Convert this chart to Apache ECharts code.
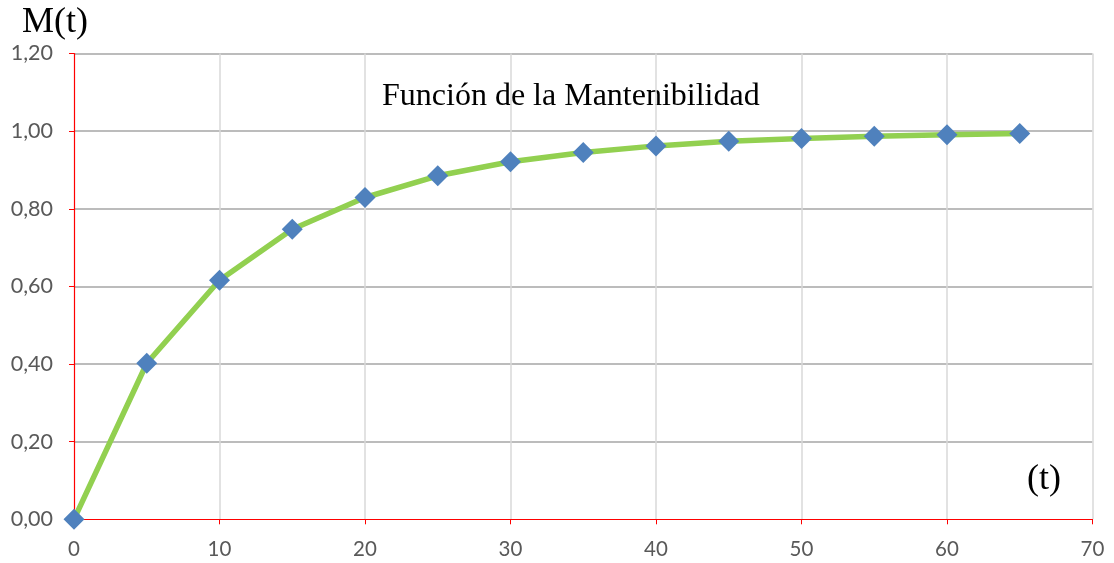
<!DOCTYPE html>
<html>
<head>
<meta charset="utf-8">
<script src="https://cdn.jsdelivr.net/npm/echarts@6/dist/echarts.min.js"></script>
<style>
html, body { margin: 0; padding: 0; background: #fff; }
#chart { width: 1114px; height: 563px; }
</style>
</head>
<body>
<div id="chart"></div>
<script>
// tiempo (t) y mantenibilidad M(t)
var tiempo = [0, 5, 10, 15, 20, 25, 30, 35, 40, 45, 50, 55, 60, 65]
var mantenibilidad = [0, 0.402, 0.616, 0.747, 0.829, 0.885, 0.921, 0.945, 0.962, 0.974, 0.981, 0.987, 0.991, 0.994]

var chart = echarts.init(document.getElementById('chart'))

var puntos = []
for (var i = 0; i < tiempo.length; i++) {
    puntos.push([tiempo[i], mantenibilidad[i]])
}

chart.setOption({
    animation: false,
    grid: {
        left: 74,
        right: 21.5,
        top: 53.5,
        bottom: 43.7
    },
    graphic: [
        {
            type: 'text',
            left: 382,
            top: 81,
            style: {
                text: 'Función de la Mantenibilidad',
                font: '32px "Liberation Serif"',
                fill: '#000'
            }
        },
        {
            type: 'text',
            left: 22,
            top: 5,
            style: {
                text: 'M(t)',
                font: '36px "Liberation Serif"',
                fill: '#000'
            }
        },
        {
            type: 'text',
            left: 1027,
            top: 462,
            style: {
                text: '(t)',
                font: '36px "Liberation Serif"',
                fill: '#000'
            }
        }
    ],
    xAxis: {
        type: 'value',
        min: 0,
        max: 70,
        interval: 10,
        z: 5,
        axisLine: { onZero: false, lineStyle: { color: '#ff0000', width: 1.2 } },
        axisTick: { show: true, length: 5, lineStyle: { color: '#ff0000' } },
        axisLabel: {
            margin: 20,
            color: '#595959',
            fontFamily: 'Lato',
            fontSize: 20.5
        },
        splitLine: { show: true, showMinLine: false, lineStyle: { color: '#d9d9d9', width: 1.5 } }
    },
    yAxis: {
        type: 'value',
        min: 0,
        max: 1.2,
        interval: 0.2,
        z: 5,
        axisLine: { show: true, onZero: false, lineStyle: { color: '#ff0000', width: 1.2 } },
        axisTick: { show: true, length: 5, lineStyle: { color: '#ff0000' } },
        axisLabel: {
            margin: 21,
            color: '#595959',
            fontFamily: 'Lato',
            fontSize: 21.5,
            formatter: function (v) {
                return v.toFixed(2).replace('.', ',')
            }
        },
        splitLine: { show: true, showMinLine: false, lineStyle: { color: '#a6a6a6', width: 1.5 } }
    },
    series: [{
        type: 'line',
        data: puntos,
        symbol: 'diamond',
        symbolSize: [21, 21],
        lineStyle: { color: '#92d050', width: 5.5 },
        itemStyle: { color: '#4f81bd' },
        z: 6
    }]
})
</script>
</body>
</html>
